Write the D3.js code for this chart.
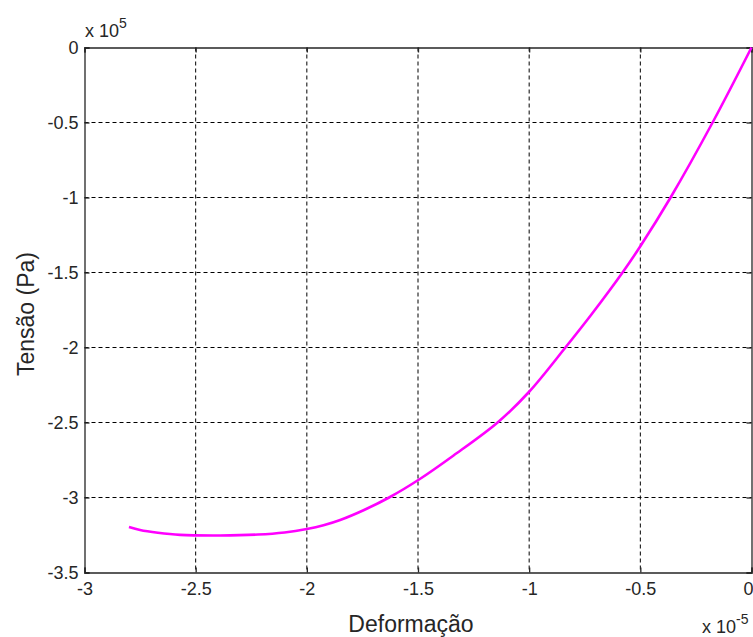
<!DOCTYPE html>
<html>
<head>
<meta charset="utf-8">
<script src="https://cdn.jsdelivr.net/npm/d3@7"></script>
<style>
  body { margin: 0; background: #fff; }
  svg { display: block; font-family: "Liberation Sans", Arial, sans-serif; }
</style>
</head>
<body>
<svg id="canvas" width="753" height="637"></svg>
<script>
// strain (x 1e-5) and stress (x 1e5 Pa)
const deformacao = [-2.80, -2.75, -2.67, -2.57, -2.39, -2.22, -2.10, -2.00, -1.925, -1.85, -1.745,
	-1.63, -1.49, -1.34, -1.142, -1.0, -0.837, -0.72, -0.58, -0.50, -0.364, -0.175, 0];
const tensao = [-3.197, -3.217, -3.235, -3.249, -3.253, -3.247, -3.233, -3.21, -3.185, -3.15, -3.085,
	-3.0, -2.875, -2.72, -2.5, -2.295, -2.0, -1.78, -1.5, -1.325, -1.0, -0.5, 0];

const xTicks = [-3, -2.5, -2, -1.5, -1, -0.5, 0];
const yTicks = [0, -0.5, -1, -1.5, -2, -2.5, -3, -3.5];

let canvas = d3.select("#canvas");

let plotLeft = 84.5, plotRight = 751.5, plotTop = 47.5, plotBottom = 572.5;

let xScale = d3.scaleLinear().domain([-3, 0]).range([plotLeft, plotRight]);
let yScale = d3.scaleLinear().domain([-3.5, 0]).range([plotBottom, plotTop]);

// grid
let grid = canvas.append("g")
		.attr("stroke", "#000")
		.attr("stroke-width", 1)
		.attr("stroke-dasharray", "4,3");

grid.selectAll("line.vx")
		.data(xTicks.slice(1, -1))
		.enter()
		.append("line")
		.attr("x1", (d) => xScale(d))
		.attr("x2", (d) => xScale(d))
		.attr("y1", plotTop)
		.attr("y2", plotBottom);

grid.selectAll("line.hy")
		.data(yTicks.slice(1, -1))
		.enter()
		.append("line")
		.attr("x1", plotLeft)
		.attr("x2", plotRight)
		.attr("y1", (d) => yScale(d))
		.attr("y2", (d) => yScale(d));

// axes with inward ticks
let fmt = (d) => d === 0 ? "0" : String(d);

let xAxis = canvas.append("g")
		.attr("transform", `translate(0,${plotBottom})`)
		.call(d3.axisBottom(xScale).tickValues(xTicks).tickSize(-5).tickPadding(10).tickFormat(fmt));

canvas.append("g")
		.attr("transform", `translate(${plotLeft},0)`)
		.call(d3.axisLeft(yScale).tickValues(yTicks).tickSize(-5).tickPadding(6).tickFormat(fmt));

canvas.append("g")
		.attr("transform", `translate(0,${plotTop})`)
		.call(d3.axisTop(xScale).tickValues(xTicks).tickSize(-5).tickFormat(""));

canvas.append("g")
		.attr("transform", `translate(${plotRight},0)`)
		.call(d3.axisRight(yScale).tickValues(yTicks).tickSize(-5).tickFormat(""));

canvas.selectAll(".domain, .tick line")
		.attr("stroke", "#262626")
		.attr("stroke-width", 1.3);

canvas.selectAll(".tick text")
		.attr("fill", "#262626")
		.style("font-size", "18px")
		.style("font-family", "'Liberation Sans', Arial, sans-serif");

// last x label sits on the window edge; keep it inside
xAxis.selectAll(".tick text")
		.filter((d) => d === 0)
		.attr("text-anchor", "end")
		.attr("x", 753 - plotRight);

// curve
let line = d3.line()
		.x((d, i) => xScale(deformacao[i]))
		.y((d, i) => yScale(tensao[i]))
		.curve(d3.curveCatmullRom.alpha(0.5));

canvas.append("path")
		.datum(tensao)
		.attr("d", line)
		.attr("fill", "none")
		.attr("stroke", "#ff00ff")
		.attr("stroke-width", 2.6);

// labels
canvas.append("text")
		.attr("x", 411)
		.attr("y", 632)
		.attr("text-anchor", "middle")
		.attr("fill", "#262626")
		.style("font-size", "23px")
		.text("Deformação");

canvas.append("text")
		.attr("transform", `translate(34,314) rotate(-90)`)
		.attr("text-anchor", "middle")
		.attr("fill", "#262626")
		.style("font-size", "23px")
		.text("Tensão (Pa)");

// exponent labels
let expTop = canvas.append("text")
		.attr("x", 85)
		.attr("y", 37)
		.attr("fill", "#262626")
		.style("font-size", "18px");
expTop.append("tspan").text("x 10");
expTop.append("tspan").attr("dy", -9).style("font-size", "14px").text("5");

let expBottom = canvas.append("text")
		.attr("x", 702)
		.attr("y", 633)
		.attr("fill", "#262626")
		.style("font-size", "18px");
expBottom.append("tspan").text("x 10");
expBottom.append("tspan").attr("dy", -9).style("font-size", "14px").text("-5");
</script>
</body>
</html>
